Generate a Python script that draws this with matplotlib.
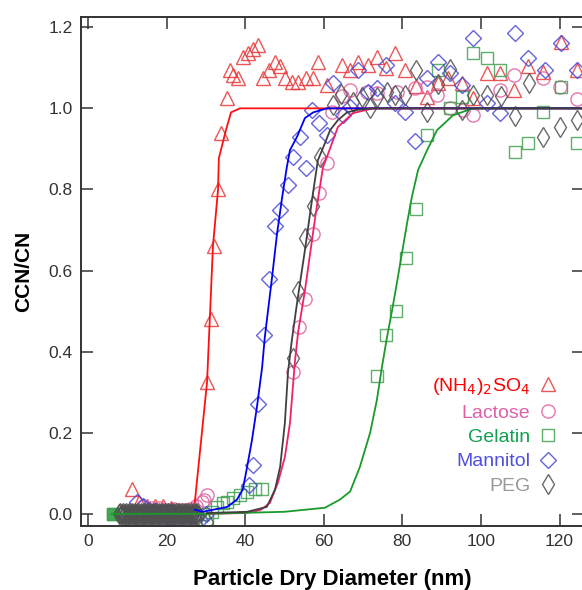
import matplotlib
matplotlib.use("Agg")
import matplotlib.pyplot as plt

plt.rcParams["font.family"] = ["Liberation Sans", "DejaVu Sans"]

# measured activated fraction, CCN/CN vs dry diameter (nm)
as_x = [11.2, 13.0, 15.0, 17.0, 19.0, 21.0, 23.0, 25.0, 27.0,
        30.3, 31.3, 32.1, 33.1, 33.8,
        35.4, 36.1, 36.9, 38.2, 39.4, 40.7, 42.0, 43.3, 44.5, 46.1, 47.6, 48.9,
        50.1, 51.9, 53.4, 55.5, 57.3, 58.5, 60.8, 64.6, 66.7, 68.7, 71.2, 73.5,
        75.8, 78.1, 80.7, 83.5, 86.3, 89.1, 91.6, 95.2, 98.0, 101.5, 104.8,
        108.4, 112.0, 115.8, 120.4, 124.4]
as_y = [0.06, 0.03, 0.02, 0.02, 0.02, 0.015, 0.01, 0.01, 0.015,
        0.325, 0.48, 0.66, 0.80, 0.94,
        1.025, 1.094, 1.082, 1.074, 1.126, 1.136, 1.146, 1.156, 1.074, 1.094,
        1.114, 1.104, 1.074, 1.065, 1.065, 1.074, 1.074, 1.114, 1.057, 1.106,
        1.094, 1.114, 1.106, 1.126, 1.099, 1.136, 1.094, 1.055, 1.028, 1.062,
        1.074, 1.062, 1.025, 1.087, 1.087, 1.045, 1.104, 1.089, 1.163, 1.094]

lac_x = [14.0, 16.0, 18.0, 20.0, 22.0, 24.0, 26.0, 27.5, 29.0, 29.5, 30.3,
         52.2, 53.7, 55.2, 57.3, 58.8, 60.8, 62.2, 64.6, 66.7, 71.0, 73.5,
         78.6, 83.2, 86.3, 88.8, 92.1, 95.5, 98.0, 104.8, 108.4, 115.8,
         120.2, 124.4]
lac_y = [0.02, 0.015, 0.015, 0.01, 0.012, 0.01, 0.012, 0.02, 0.03, 0.035, 0.047,
         0.35, 0.46, 0.53, 0.69, 0.79, 0.865, 0.99, 1.03, 1.045, 1.04, 1.037,
         1.04, 1.05, 1.052, 1.032, 1.0, 0.996, 0.983, 1.045, 1.082, 1.074,
         1.052, 1.022]

gel_x = [6.4, 9.0, 11.0, 13.0, 15.0, 17.0, 19.0, 21.0, 23.0,
         25.0, 27.0, 29.3, 30.3, 31.5, 32.8, 34.4, 35.4, 36.9, 38.7, 40.5,
         42.5, 44.3,
         73.5, 75.8, 78.4, 80.9, 83.5,
         86.3, 89.1, 92.1, 95.2, 98.0, 101.5, 104.8, 108.6, 112.0, 115.8,
         120.4, 124.4]
gel_y = [0.0, 0.0, 0.0, 0.0, 0.0, 0.0, 0.0, 0.0, 0.0,
         0.0, 0.0, 0.0, -0.015, 0.005, 0.017, 0.027, 0.03, 0.04, 0.047, 0.054,
         0.06, 0.06,
         0.34, 0.44, 0.50, 0.63, 0.752,
         0.934, 1.094, 1.0, 1.028, 1.136, 1.124, 1.094, 0.892, 0.914, 0.99,
         1.052, 0.914]

man_x = [12.4, 14.1, 15.5, 17.0, 18.5, 20.0, 21.5, 23.0, 24.5, 26.0, 27.5,
         28.5, 30.0, 10.0, 12.0, 14.0, 16.0, 18.0, 20.0, 22.0, 24.0, 26.0,
         41.0, 42.0, 43.3, 44.8, 46.1, 47.6, 48.9, 50.9, 52.2, 53.9, 55.5,
         57.0, 58.8, 60.8, 62.3, 64.9, 66.7, 68.7, 71.2, 73.5, 75.8, 78.1,
         80.7, 83.2, 86.3, 89.1, 92.1, 95.2, 98.0, 101.5, 104.8, 108.6,
         112.0, 116.3, 120.4, 124.4]
man_y = [0.03, 0.02, 0.01, 0.008, 0.005, 0.005, 0.003, 0.003, 0.0, 0.0, -0.005,
         -0.015, 0.0, -0.008, -0.008, -0.008, -0.008, -0.008, -0.008, -0.008,
         -0.008, -0.008,
         0.07, 0.12, 0.27, 0.44, 0.58, 0.71, 0.75, 0.81, 0.88, 0.93, 0.853,
         0.996, 0.963, 0.934, 1.062, 0.983, 1.003, 1.094, 1.04, 1.05, 1.106,
         1.013, 0.99, 0.92, 1.074, 1.114, 1.087, 1.057, 1.173, 1.013, 0.988,
         1.185, 1.124, 1.094, 1.161, 1.094]

peg_x = [8.0, 8.25, 8.5, 8.75, 9.0, 9.25, 9.5, 9.75, 10.0, 10.25, 10.5, 10.75,
         11.0, 11.25, 11.5, 11.75, 12.0, 12.25, 12.5, 12.75, 13.0, 13.25,
         13.5, 13.75, 14.0, 14.25, 14.5, 14.75, 15.0, 15.25, 15.5, 15.75,
         16.0, 16.25, 16.5, 16.75, 17.0, 17.25, 17.5, 17.75, 18.0, 18.25,
         18.5, 18.75, 19.0, 19.25, 19.5, 19.75, 20.0, 20.25, 20.5, 20.75,
         21.0, 21.25, 21.5, 21.75, 22.0, 22.25, 22.5, 22.75, 23.0, 23.25,
         23.5, 23.75, 24.0, 24.25, 24.5, 24.75, 25.0, 25.25, 25.5, 25.75,
         26.0, 26.25, 26.5, 26.75, 27.0, 27.25, 27.5, 27.75, 28.0, 30.3,
         52.2, 53.4, 55.2, 57.3, 59.0, 62.3, 64.5, 67.4, 69.7, 71.8, 73.5,
         76.1, 78.1, 80.7, 83.5, 86.3, 89.1, 92.1, 95.2, 98.0, 101.5, 105.0,
         108.6, 112.1, 115.8, 120.2, 124.4]
peg_y = [0.0, 0.003, -0.003, 0.0, 0.003, -0.003, 0.0, 0.003, -0.003, 0.0,
         0.003, -0.003, 0.0, 0.003, -0.003, 0.0, 0.003, -0.003, 0.0, 0.003,
         -0.003, 0.0, 0.003, -0.003, 0.0, 0.003, -0.003, 0.0, 0.003, -0.003,
         0.0, 0.003, -0.003, 0.0, 0.003, -0.003, 0.0, 0.003, -0.003, 0.0,
         0.003, -0.003, 0.0, 0.003, -0.003, 0.0, 0.003, -0.003, 0.0, 0.003,
         -0.003, 0.0, 0.003, -0.003, 0.0, 0.003, -0.003, 0.0, 0.003, -0.003,
         0.0, 0.003, -0.003, 0.0, 0.003, -0.003, 0.0, 0.003, -0.003, 0.0,
         0.003, -0.003, 0.0, 0.003, -0.003, 0.0, 0.003, -0.003, 0.0, 0.003,
         -0.003, -0.02,
         0.384, 0.55, 0.68, 0.76, 0.88, 1.008, 1.035, 1.015, 1.028, 1.0, 1.028,
         1.04, 1.032, 1.032, 1.094, 0.99, 1.06, 1.096, 0.995, 1.032, 1.032,
         1.03, 0.98, 1.063, 0.93, 0.954, 0.971]

# fitted activation curves
as_fit_x = [27.2, 30.3, 31.0, 31.8, 33.1, 33.3, 35.1, 36.4, 38.7, 126.5]
as_fit_y = [0.03, 0.325, 0.48, 0.66, 0.80, 0.877, 0.946, 0.99, 1.0, 1.0]

lac_fit_x = [30.0, 40.0, 42.0, 44.0, 46.3, 48.3, 50.1, 51.4, 52.7, 53.5, 55.2,
             57.8, 59.8, 60.8, 63.6, 67.4, 72.5, 126.5]
lac_fit_y = [0.0, 0.002, 0.005, 0.01, 0.027, 0.076, 0.14, 0.224, 0.38, 0.45,
             0.55, 0.73, 0.855, 0.88, 0.954, 0.988, 1.0, 1.0]

gel_fit_x = [6.0, 30.0, 50.0, 60.3, 64.1, 66.7, 69.2, 71.8, 73.5, 74.8, 76.1,
             77.4, 78.6, 79.9, 81.2, 82.4, 84.0, 86.3, 88.8, 92.9, 98.0, 126.5]
gel_fit_y = [0.0, 0.0, 0.005, 0.015, 0.035, 0.055, 0.116, 0.2, 0.28, 0.362,
             0.436, 0.503, 0.569, 0.643, 0.717, 0.781, 0.848, 0.897, 0.946,
             0.983, 1.0, 1.0]

man_fit_x = [27.2, 29.3, 31.8, 35.4, 37.9, 39.4, 40.5, 41.7, 43.0, 44.3, 45.0,
             46.8, 48.1, 49.4, 50.6, 51.4, 53.2, 55.2, 57.3, 60.8, 126.5]
man_fit_y = [0.01, 0.005, 0.01, 0.017, 0.035, 0.06, 0.116, 0.18, 0.264, 0.36,
             0.436, 0.58, 0.69, 0.78, 0.855, 0.897, 0.93, 0.976, 0.99, 1.0, 1.0]

peg_fit_x = [30.3, 40.5, 45.5, 47.6, 48.9, 50.1, 50.9, 51.9, 53.2, 55.2, 57.0,
             58.5, 60.3, 61.6, 63.6, 65.9, 68.4, 72.5, 126.5]
peg_fit_y = [0.002, 0.005, 0.017, 0.06, 0.116, 0.224, 0.35, 0.43, 0.52, 0.65,
             0.774, 0.872, 0.914, 0.946, 0.971, 0.99, 0.996, 1.0, 1.0]

series = [
    # label, x, y, fit x, fit y, marker, size, marker colour, line colour, text colour
    ("(NH$_4$)$_2$SO$_4$", as_x, as_y, as_fit_x, as_fit_y, "^", 10,
     "#e8383a", "#ff1010", "#ff0000"),
    ("Lactose", lac_x, lac_y, lac_fit_x, lac_fit_y, "o", 9.5,
     "#e0609e", "#f0206a", "#e060a8"),
    ("Gelatin", gel_x, gel_y, gel_fit_x, gel_fit_y, "s", 8.5,
     "#40a050", "#1a9a2a", "#10a050"),
    ("Mannitol", man_x, man_y, man_fit_x, man_fit_y, "D", 8.5,
     "#4848d8", "#0000f0", "#5050e0"),
    ("PEG", peg_x, peg_y, peg_fit_x, peg_fit_y, "d", 10,
     "#505050", "#404040", "#999999"),
]

fig = plt.figure(figsize=(5.82, 5.90), dpi=100)
ax = fig.add_axes([0.139, 0.1085, 0.865, 0.8625])

# smallest gelatin size bin shows up as a solid block
ax.plot(gel_x[:1], gel_y[:1], linestyle="none", marker="s", markersize=8.5,
        color="#30a040", alpha=0.9)

handles = []
for label, x, y, fx, fy, mk, ms, mc, lc, tc in series:
    h, = ax.plot(x, y, linestyle="none", marker=mk, markersize=ms,
                 markerfacecolor="none", markeredgecolor=mc,
                 markeredgewidth=1.0, alpha=0.85, label=label)
    handles.append(h)
for label, x, y, fx, fy, mk, ms, mc, lc, tc in series:
    ax.plot(fx, fy, color=lc, lw=1.3)

ax.set_xlim(-1.8, 126.3)
ax.set_ylim(-0.03, 1.225)
ax.set_xticks([0, 20, 40, 60, 80, 100, 120])
ax.set_yticks([0.0, 0.2, 0.4, 0.6, 0.8, 1.0, 1.2])
ax.yaxis.set_major_formatter(matplotlib.ticker.FormatStrFormatter("%.1f"))
ax.tick_params(direction="in", length=8.5, width=1.1, colors="#333333",
               labelsize=12.5, top=True, right=True, labelcolor="#333333",
               pad=6)
for sp in ax.spines.values():
    sp.set_linewidth(1.4)
    sp.set_color("#333333")

ax.set_xlabel("Particle Dry Diameter (nm)", fontsize=16, fontweight="bold",
              labelpad=14)
ax.set_ylabel("CCN/CN", fontsize=15, fontweight="bold", labelpad=11)

leg = ax.legend(handles=handles, loc="lower right", markerfirst=False,
                frameon=False, fontsize=14, handlelength=0.8, handletextpad=0.5,
                labelspacing=0.35, bbox_to_anchor=(0.958, 0.046),
                borderaxespad=0)
for txt, s in zip(leg.get_texts(), series):
    txt.set_color(s[9])

fig.savefig("out.png", dpi=100)
